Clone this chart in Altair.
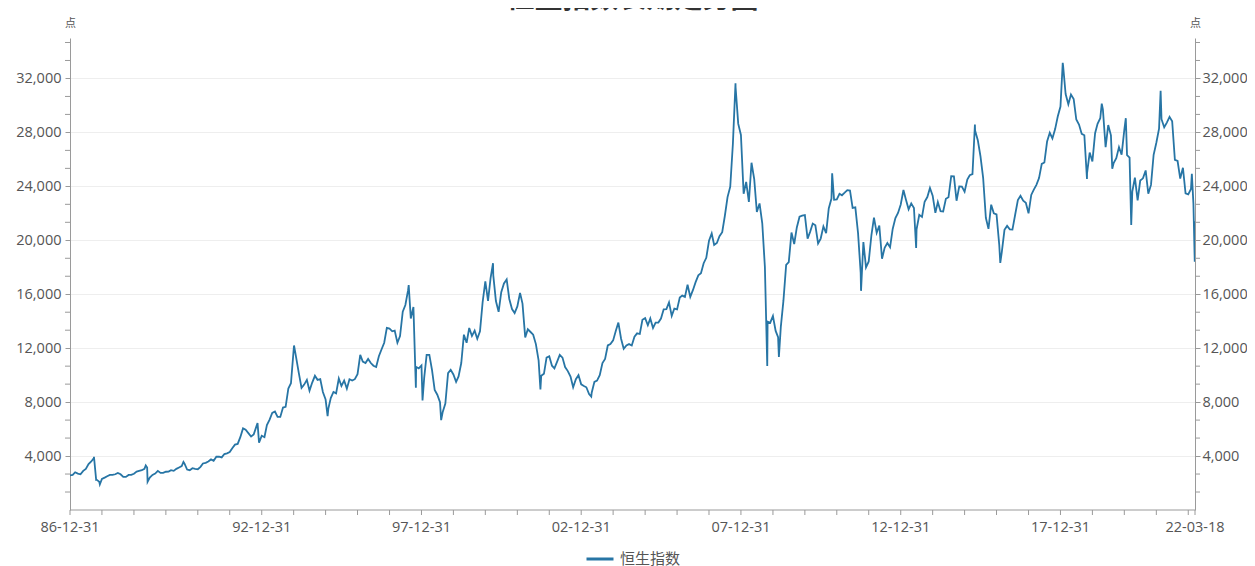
import altair as alt
import pandas as pd

# ---------------- data ----------------
series_name = "恒生指数"
chart_title = "恒生指数长期走势图"
unit_label = "点"

start_date = "1986-12-31"
start_value = 2568
end_date = "2022-03-18"

# month-end closes (Jan..Dec)
close_1987_1991 = [
    2600, 2800, 2700, 2650, 2900, 3050, 3400, 3600, 3850, 2250, 2100, 2302,
    2400, 2500, 2600, 2600, 2650, 2750, 2650, 2450, 2450, 2600, 2600, 2687,
    2850, 2900, 2950, 3050, 3150, 2400, 2600, 2700, 2900, 2750, 2750, 2837,
    2850, 2950, 2900, 3050, 3150, 3250, 3450, 3000, 2950, 3100, 3050, 3025,
    3200, 3450, 3500, 3600, 3750, 3650, 3950, 3950, 3900, 4150, 4200, 4297,
]
close_1992_1996 = [
    4600, 4850, 4900, 5400, 6050, 5950, 5700, 5450, 5600, 6200, 5000, 5512,
    5400, 6300, 6700, 7200, 7300, 6900, 6900, 7600, 7650, 9000, 9400, 11888,
    11200, 10150, 9050, 9300, 9650, 8850, 9450, 9950, 9650, 9700, 8750, 8191,
    7500, 8300, 8750, 8650, 9750, 9200, 9600, 9000, 9700, 9600, 9700, 10073,
    11500, 11000, 10900, 11200, 10900, 10700, 10600, 11400, 11900, 12400, 13500, 13451,
]
close_1997_2001 = [
    13250, 13300, 12400, 12900, 14700, 15200, 16300, 14200, 15050, 10600, 10500, 10722,
    9800, 11500, 11500, 10400, 8900, 8550, 8000, 7275, 7900, 10150, 10400, 10048,
    9500, 9900, 10900, 13000, 12400, 13500, 12900, 13300, 12700, 13250, 15400, 16962,
    15500, 17200, 17400, 15500, 14700, 16150, 16800, 17100, 15650, 14900, 14600, 15096,
    16100, 15300, 12800, 13400, 13200, 13000, 12300, 11100, 9950, 10100, 11300, 11397,
]
close_2002_2006 = [
    10700, 10500, 11000, 11500, 11300, 10600, 10300, 9900, 9100, 9700, 10000, 9321,
    9200, 9100, 8600, 8700, 9500, 9600, 10000, 10900, 11200, 12200, 12300, 12576,
    13300, 13900, 12700, 11950, 12200, 12300, 12200, 12850, 13100, 13050, 14100, 14230,
    13700, 14200, 13500, 13900, 13900, 14200, 14880, 14900, 15400, 14400, 14940, 14876,
    15750, 15900, 15800, 16700, 15800, 16300, 16900, 17400, 17550, 18300, 18700, 19965,
]
close_2007_2011 = [
    20500, 19650, 19800, 20300, 20600, 21800, 23200, 23980, 27140, 31350, 28650, 27812,
    23455, 24330, 22850, 25750, 24530, 22100, 22730, 21260, 18016, 13969, 13888, 14387,
    13278, 12811, 13576, 15520, 18171, 18378, 20573, 19724, 20955, 21752, 21821, 21872,
    20122, 20608, 21239, 21108, 19765, 20128, 21029, 20536, 22358, 23096, 23007, 23035,
    23447, 23338, 23527, 23720, 23684, 22398, 22440, 20534, 17592, 19864, 17989, 18434,
]
close_2012_2016 = [
    20390, 21680, 20556, 21094, 18630, 19441, 19796, 19482, 20840, 21642, 22030, 22657,
    23730, 23020, 22300, 22737, 22392, 20803, 21883, 21731, 22860, 23206, 23881, 23306,
    22035, 22837, 22151, 22134, 23082, 23191, 24757, 24742, 22933, 23998, 23987, 23605,
    24507, 24823, 24901, 28133, 27424, 26250, 24636, 21671, 20846, 22640, 21996, 21914,
    19683, 19112, 20777, 21067, 20815, 20794, 21891, 22977, 23297, 22935, 22790, 22001,
]
close_2017_2021 = [
    23361, 23741, 24112, 24615, 25661, 25765, 27323, 27970, 27554, 28246, 29177, 29919,
    32887, 30845, 30093, 30808, 30469, 28955, 28583, 27889, 27789, 24980, 26507, 25846,
    27942, 28633, 29051, 29699, 26901, 28543, 27778, 25725, 26092, 26907, 26346, 28190,
    26313, 26130, 23603, 24644, 22961, 24427, 24595, 25177, 23459, 24107, 26341, 27231,
    28284, 28980, 28378, 28725, 29151, 28828, 25961, 25879, 24576, 25377, 23475, 23398,
]
close_2022 = [23802, 22713]

# intra-month highs / lows visible as spikes in the picture
spike_dates = [
    "1987-10-01", "1987-10-26", "1987-12-07", "1989-05-15", "1989-06-05",
    "1990-07-20", "1992-11-13", "1994-01-04", "1995-01-23", "1997-08-07",
    "1997-10-28", "1998-01-12", "1998-08-13", "2000-03-28", "2001-09-21",
    "2003-04-25", "2007-10-30", "2008-10-27", "2009-03-09", "2010-11-08",
    "2011-10-04", "2013-06-25", "2015-04-28", "2016-02-12", "2018-01-26",
    "2018-10-30", "2019-04-17", "2019-08-15", "2020-01-17", "2020-03-19",
    "2021-02-18", "2022-02-10", "2022-03-15", "2022-03-18",
]
spike_values = [
    3950, 2241, 1894, 3309, 2093,
    3560, 6447, 12201, 6967, 16673,
    9059, 8121, 6660, 18301, 8934,
    8409, 31638, 10676, 11344, 24964,
    16250, 19426, 28588, 18320, 33154,
    24540, 30130, 25300, 29056, 21139,
    31085, 24924, 18415, 21412,
]

# axis ticks / labels
y_major = [4000, 8000, 12000, 16000, 20000, 24000, 28000, 32000]
y_max = 35000
x_tick_dates = [f"{y}-12-31" for y in range(1986, 2022)] + [end_date]
x_label_dates = ["1986-12-31", "1992-12-31", "1997-12-31", "2002-12-31",
                 "2007-12-31", "2012-12-31", "2017-12-31", "2022-03-18"]
x_label_texts = ["86-12-31", "92-12-31", "97-12-31", "02-12-31",
                 "07-12-31", "12-12-31", "17-12-31", "22-03-18"]

# ---------------- build tables ----------------
monthly = (close_1987_1991 + close_1992_1996 + close_1997_2001 + close_2002_2006
           + close_2007_2011 + close_2012_2016 + close_2017_2021 + close_2022)
month_ends = pd.date_range("1987-01-31", periods=len(monthly), freq=pd.offsets.MonthEnd())
rows = [(start_date, start_value)]
rows += [(d.strftime("%Y-%m-%d"), v) for d, v in zip(month_ends, monthly)]
rows += list(zip(spike_dates, spike_values))
df = pd.DataFrame(rows, columns=["date", "value"]).sort_values("date").reset_index(drop=True)
df["series"] = series_name


def ms(s):
    return int(pd.Timestamp(s, tz="UTC").value // 10**6)


step = y_major[0] / 3
minor_df = pd.DataFrame({"v": [k * step for k in range(1, int(y_max / step) + 1) if k % 3 != 0]})
xtick_df = pd.DataFrame({"d": x_tick_dates})
xlab_df = pd.DataFrame({"d": x_label_dates, "lab": x_label_texts})
title_df = pd.DataFrame({"t": [chart_title]})

# ---------------- style ----------------
W, H = 1125, 472
LINE = "#2775a5"
AX = "#9a9a9a"
LAB = "#555555"
FONT = "Open Sans"
CJK = "Noto Sans CJK SC"
FS = 14.5

x_scale = alt.Scale(type="utc", domain=[ms(start_date), ms(end_date)])
y_scale = alt.Scale(domain=[0, y_max], nice=False, zero=True)

left_axis = alt.Axis(orient="left", values=y_major, format=",d", grid=True, gridColor="#eeeeee",
                     domainColor=AX, tickColor=AX, tickSize=5, labelColor=LAB, labelFont=FONT,
                     labelFontSize=FS, labelPadding=4, title=unit_label, titleAngle=0, titleX=0,
                     titleY=-15, titleAlign="center", titleBaseline="middle", titleFont=CJK,
                     titleFontSize=11, titleFontWeight="normal", titleColor=LAB)

right_axis = alt.Axis(orient="right", values=y_major, format=",d", grid=False,
                      domainColor=AX, tickColor=AX, tickSize=5, labelColor=LAB, labelFont=FONT,
                      labelFontSize=FS, labelPadding=2, title=unit_label, titleAngle=0, titleX=0,
                      titleY=-15, titleAlign="center", titleBaseline="middle", titleFont=CJK,
                      titleFontSize=11, titleFontWeight="normal", titleColor=LAB)

line = alt.Chart(df).mark_line(strokeWidth=1.8, clip=True).encode(
    x=alt.X("date:T", scale=x_scale, axis=None),
    y=alt.Y("value:Q", scale=y_scale, axis=left_axis),
    color=alt.Color("series:N", scale=alt.Scale(range=[LINE]),
                    legend=alt.Legend(orient="none", legendX=515, legendY=506, title=None,
                                      symbolType="stroke", symbolSize=729, symbolStrokeWidth=3,
                                      labelFont=CJK, labelFontSize=15, labelColor=LAB,
                                      labelOffset=5)),
)

minor_left = alt.Chart(minor_df).mark_rule(color=AX).encode(
    y=alt.Y("v:Q", scale=y_scale, axis=None), x=alt.value(-5), x2=alt.value(0))
minor_right = alt.Chart(minor_df).mark_rule(color=AX).encode(
    y=alt.Y("v:Q", scale=y_scale, axis=right_axis), x=alt.value(W), x2=alt.value(W + 5))

# bottom (x) axis: baseline, yearly ticks and date labels placed through the x scale
x_domain = alt.Chart(xlab_df.head(1)).mark_rule(color=AX).encode(
    x=alt.value(0), x2=alt.value(W), y=alt.value(H))
year_ticks = alt.Chart(xtick_df).mark_rule(color=AX).encode(
    x=alt.X("d:T", scale=x_scale, axis=None), y=alt.value(H), y2=alt.value(H + 5))
x_labels = alt.Chart(xlab_df).mark_text(font=FONT, fontSize=FS, color=LAB, baseline="middle",
                                        align="center").encode(
    x=alt.X("d:T", scale=x_scale, axis=None), y=alt.value(H + 18), text="lab:N")

title = alt.Chart(title_df).mark_text(font=CJK, fontSize=28, fontWeight="bold", color="#333333",
                                      baseline="alphabetic", align="center").encode(
    text="t:N", x=alt.value(W / 2), y=alt.value(-30))

chart = alt.layer(line, minor_left, minor_right, x_domain, year_ticks, x_labels, title).resolve_axis(
    y="independent").properties(
    width=W, height=H,
    autosize=alt.AutoSizeParams(type="none"),
    padding={"left": 62, "top": 30, "right": 52, "bottom": 60},
).configure_view(stroke=None)

chart.save("out.html", embed_options={"renderer": "svg", "actions": False})
